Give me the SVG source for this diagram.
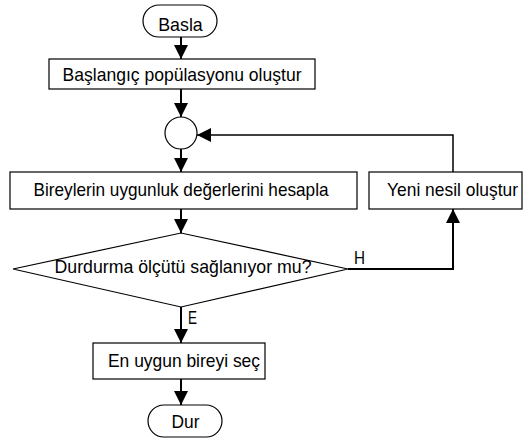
<svg xmlns="http://www.w3.org/2000/svg" width="529" height="439" viewBox="0 0 529 439">
<defs>
<marker id="ah" markerWidth="14" markerHeight="14" refX="14" refY="7" orient="auto" markerUnits="userSpaceOnUse" viewBox="0 0 14 14">
<path d="M0,0 L14,7 L0,14 Z" fill="#000"/>
</marker>
</defs>
<style>
.s{fill:#fff;stroke:#000;stroke-width:1.2}
.t{font-family:"Liberation Sans",Arial,sans-serif;font-size:19px;fill:#000;text-anchor:middle}
.l{font-family:"Liberation Sans",Arial,sans-serif;font-size:18px;fill:#000}
.c{fill:none;stroke:#000;stroke-width:2}
.c1{fill:none;stroke:#000;stroke-width:1.5}
</style>
<g id="basla"><rect class="s" x="143" y="5" width="74" height="32" rx="16"/><text class="t" x="180.5" y="30.5" textLength="44.5" lengthAdjust="spacingAndGlyphs">Basla</text></g>
<g id="baslangic"><rect class="s" x="49" y="59" width="266" height="30"/><text class="t" x="182" y="80.5" textLength="239" lengthAdjust="spacingAndGlyphs">Başlangıç popülasyonu oluştur</text></g>
<g id="merge"><circle class="s" cx="181" cy="133" r="16"/></g>
<g id="hesapla"><rect class="s" x="10" y="172" width="347" height="37"/><text class="t" x="181" y="195.7" textLength="295" lengthAdjust="spacingAndGlyphs">Bireylerin uygunluk değerlerini hesapla</text></g>
<g id="yeni"><rect class="s" x="369" y="172" width="153" height="37"/><text class="t" x="452.5" y="195.7" textLength="131" lengthAdjust="spacingAndGlyphs">Yeni nesil oluştur</text></g>
<g id="karar"><polygon class="s" points="13,269 181,233 348,269 181,307"/><text class="t" x="183" y="273.3" textLength="257" lengthAdjust="spacingAndGlyphs">Durdurma ölçütü sağlanıyor mu?</text></g>
<g id="sec"><rect class="s" x="93" y="343" width="172" height="36"/><text class="t" x="184" y="367.3" textLength="152" lengthAdjust="spacingAndGlyphs">En uygun bireyi seç</text></g>
<g id="dur"><rect class="s" x="148" y="405" width="74" height="32" rx="16"/><text class="t" x="185.5" y="428.3" textLength="28" lengthAdjust="spacingAndGlyphs">Dur</text></g>
<g id="connectors">
<line class="c" x1="181" y1="37" x2="181" y2="59" marker-end="url(#ah)"/>
<line class="c" x1="181" y1="89" x2="181" y2="117" marker-end="url(#ah)"/>
<line class="c" x1="181" y1="149" x2="181" y2="172" marker-end="url(#ah)"/>
<line class="c" x1="181" y1="209" x2="181" y2="233" marker-end="url(#ah)"/>
<line class="c" x1="181" y1="307" x2="181" y2="343" marker-end="url(#ah)"/>
<line class="c" x1="181" y1="379" x2="181" y2="405" marker-end="url(#ah)"/>
<polyline class="c1" points="453,172 453,135 197,135" marker-end="url(#ah)"/>
<polyline class="c" points="348,269 453,269 453,209" marker-end="url(#ah)"/>
<text class="l" x="354" y="263.5" textLength="11" lengthAdjust="spacingAndGlyphs">H</text>
<text class="l" x="188" y="324" textLength="9" lengthAdjust="spacingAndGlyphs">E</text>
</g>
</svg>
